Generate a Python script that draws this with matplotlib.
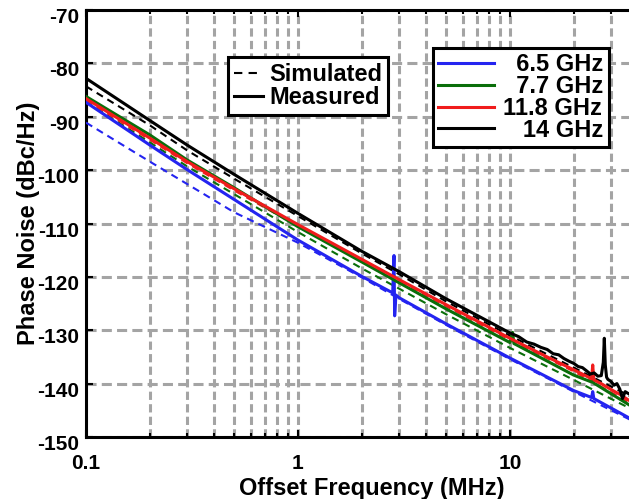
import matplotlib
matplotlib.use('Agg')
import matplotlib.pyplot as plt
from matplotlib.ticker import FixedLocator, FixedFormatter, LogLocator, NullFormatter
from matplotlib.lines import Line2D
from matplotlib.transforms import ScaledTranslation

plt.rcParams['font.family'] = ['Liberation Sans', 'DejaVu Sans']
plt.rcParams['font.weight'] = 'bold'
plt.rcParams['axes.unicode_minus'] = False

# measured curves (offset frequency in MHz, phase noise in dBc/Hz)
f_blue = [0.1, 0.2, 0.3, 0.5, 1, 2, 2.8, 2.84, 2.86, 2.9, 3, 5, 10, 20, 24.3, 24.6, 24.9, 38]
pn_blue = [-87.3, -95.3, -99.9, -105.5, -113.1, -119.9, -123.0, -116.0, -127.3, -123.4, -123.9,
           -128.8, -135.2, -141.3, -142.6, -141.5, -142.8, -146.8]

f_green = [0.1, 0.2, 0.3, 0.5, 1, 2, 3, 5, 10, 10.3, 10.45, 10.7, 20, 24.3, 24.6, 24.9, 38]
pn_green = [-86.2, -93.4, -98.1, -103.3, -110.6, -117.2, -121.1, -126.0, -132.3, -130.4, -132.5,
            -132.7, -138.4, -139.7, -138.8, -139.9, -144.4]

f_red = [0.1, 0.2, 0.3, 0.5, 1, 2, 3, 5, 10, 15, 20, 23, 24.3, 24.6, 24.9, 27, 30, 33, 38]
pn_red = [-86.6, -94.0, -98.4, -103.5, -110.2, -116.7, -120.5, -125.2, -131.5, -135.0, -137.4,
          -138.6, -139.1, -136.5, -139.3, -140.0, -141.1, -142.0, -143.6]

f_black = [0.1, 0.2, 0.3, 0.5, 1, 2, 3, 5, 10, 11, 12, 13, 14, 15, 16, 17, 18, 19, 20, 21, 22,
           23, 24, 25, 26, 27, 27.6, 27.9, 28.2, 28.6, 29, 30, 31, 32, 33, 34, 35, 36, 38]
pn_black = [-82.8, -90.7, -95.3, -100.8, -108.1, -115.2, -119.0, -124.1, -130.5, -131.2, -132.2,
            -132.6, -133.2, -133.6, -134.4, -134.6, -135.3, -135.8, -136.2, -136.8, -137.0,
            -137.6, -138.2, -138.0, -138.6, -138.5, -136.0, -131.5, -136.5, -138.8, -139.2,
            -139.6, -140.3, -140.0, -141.0, -142.8, -141.5, -141.8, -142.2]

# simulated curves
f_sim = [0.1, 0.2, 0.3, 0.5, 1, 2, 3, 5, 10, 20, 38]
sim_blue = [-91.1, -98.4, -102.6, -107.9, -113.6, -120.1, -124.1, -129.0, -135.4, -141.5, -147.0]
sim_green = [-87.2, -94.8, -99.3, -104.5, -111.6, -118.4, -122.2, -127.0, -133.3, -139.3, -144.9]
sim_red = [-86.9, -94.3, -98.7, -103.8, -110.5, -117.0, -120.8, -125.5, -131.8, -137.7, -143.9]
sim_black = [-84.3, -91.6, -96.3, -101.6, -108.6, -115.6, -119.5, -124.6, -131.0, -137.0, -142.6]

freq_labels = ['  6.5 GHz', '  7.7 GHz', '11.8 GHz', '   14 GHz']
colors = ['#2424f0', '#0a6e0a', '#f01c1c', '#000000']

fig = plt.figure(figsize=(6.29, 4.99), dpi=100)
ax = fig.add_axes([86 / 629, 62 / 499, 572 / 629, 427 / 499])

measured = [(f_blue, pn_blue), (f_green, pn_green), (f_red, pn_red), (f_black, pn_black)]
simulated = [sim_blue, sim_green, sim_red, sim_black]

for ps, c in zip(simulated, colors):
    ax.plot(f_sim, ps, color=c, lw=1.5, linestyle=(0, (3.5, 2.5)), zorder=3)
for (fx, py), c in zip(measured, colors):
    ax.plot(fx, py, color=c, lw=2.2, zorder=4)

ax.set_xscale('log')
ax.set_xlim(0.1, 50)
ax.set_ylim(-150, -70)
ax.yaxis.set_major_locator(FixedLocator(range(-150, -69, 10)))
ax.xaxis.set_major_locator(FixedLocator([0.1, 1, 10]))
ax.xaxis.set_major_formatter(FixedFormatter(['0.1', '1', '10']))
ax.xaxis.set_minor_locator(LogLocator(base=10, subs=range(2, 10)))
ax.xaxis.set_minor_formatter(NullFormatter())

ax.grid(True, which='major', axis='y', color='#a4a4a4', lw=2.2, linestyle=(0, (3.3, 1.7)), zorder=1)
ax.grid(True, which='both', axis='x', color='#a4a4a4', lw=2.2, linestyle=(0, (2.7, 1.4)), zorder=1)
ax.set_axisbelow(True)

for s in ax.spines.values():
    s.set_linewidth(2.2)
ax.tick_params(which='both', direction='in', width=1.5, labelsize=15, top=True, right=True)
ax.tick_params(which='major', length=5)
ax.tick_params(which='minor', length=3)
ax.tick_params(axis='x', pad=12)
ax.tick_params(axis='y', pad=5)

# tick labels on y sit a bit below their grid lines in the original
for lab in ax.get_yticklabels():
    lab.set_transform(lab.get_transform() + ScaledTranslation(0, -4 / 72, fig.dpi_scale_trans))

ax.set_xlabel('Offset Frequency (MHz)', fontsize=17, fontweight='bold', labelpad=3)
ax.set_ylabel('Phase Noise (dBc/Hz)', fontsize=17, fontweight='bold', labelpad=-2)

# legend for line style
style_handles = [Line2D([], [], color='k', lw=1.5, linestyle=(0, (4, 3))),
                 Line2D([], [], color='k', lw=2.2)]
leg1 = fig.legend(style_handles, ['Simulated', 'Measured'], loc='upper left',
                  bbox_to_anchor=(228 / 629, 1 - 57 / 499), bbox_transform=fig.transFigure,
                  borderaxespad=0, fontsize=17, handlelength=1.25, handletextpad=0.25,
                  labelspacing=0.0, borderpad=0.25, fancybox=False, framealpha=1,
                  edgecolor='k')
leg1.get_frame().set_linewidth(2.2)

# legend for carrier frequency
col_handles = [Line2D([], [], color=c, lw=2.2) for c in colors]
leg2 = fig.legend(col_handles, freq_labels, loc='upper left',
                  bbox_to_anchor=(433 / 629, 1 - 48 / 499), bbox_transform=fig.transFigure,
                  borderaxespad=0, fontsize=17, handlelength=2.35, handletextpad=0.4,
                  labelspacing=-0.05, borderpad=0.22, fancybox=False, framealpha=1,
                  edgecolor='k')
leg2.get_frame().set_linewidth(2.2)

fig.savefig('out.png', dpi=100)
